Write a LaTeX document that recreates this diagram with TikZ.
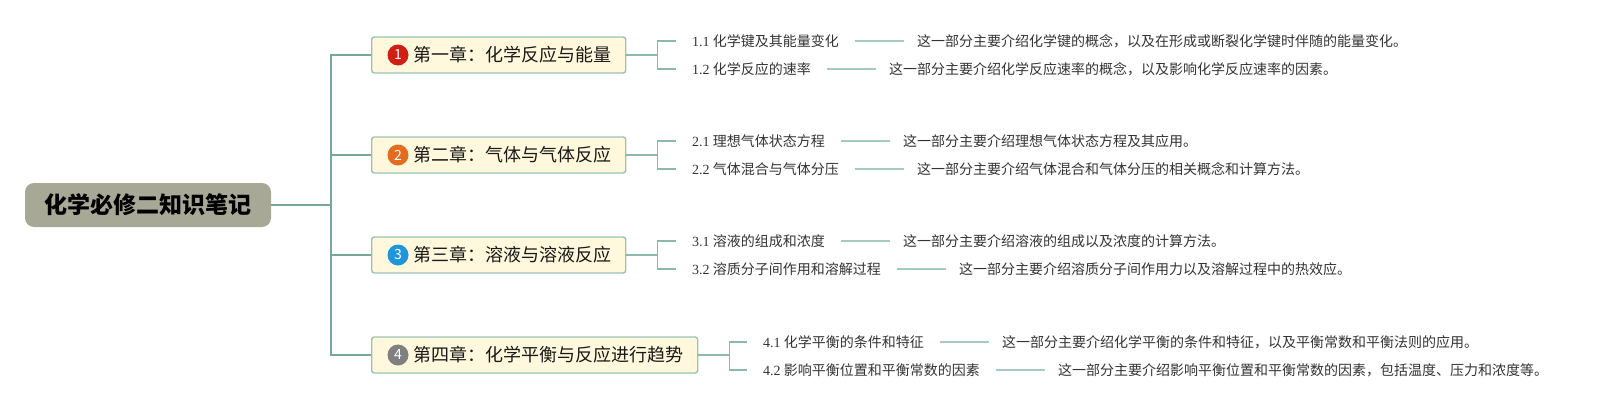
\documentclass[tikz,border=0pt]{standalone}
\usepackage{fontspec}
\setmainfont{Noto Sans CJK SC}
\newfontfamily\numfont{Liberation Serif}
\usetikzlibrary{positioning}
\definecolor{rootgray}{RGB}{168,168,150}
\definecolor{chapfill}{RGB}{255,248,220}
\definecolor{chapline}{RGB}{150,196,178}
\definecolor{branchgreen}{RGB}{118,168,152}
\definecolor{bracketgreen}{RGB}{140,186,170}
\definecolor{linkgreen}{RGB}{165,202,190}
\definecolor{dotred}{RGB}{208,32,20}
\definecolor{dotorange}{RGB}{228,108,30}
\definecolor{dotblue}{RGB}{32,150,218}
\definecolor{dotgray}{RGB}{128,128,128}
\begin{document}
\begin{tikzpicture}[x=1pt,y=-1pt,
    root/.style={fill=rootgray,rounded corners=9pt,minimum width=246pt,minimum height=44pt,
        font=\fontsize{23}{23}\selectfont\bfseries},
    chapter/.style={draw=chapline,fill=chapfill,line width=1.4pt,rounded corners=2.5pt,
        minimum height=36pt,inner xsep=14pt,anchor=west,text=black!90,
        font=\fontsize{18}{18}\selectfont},
    numdot/.style={circle,fill=#1,text=white,minimum size=21pt,inner sep=0pt,
        font=\fontsize{14}{14}\selectfont},
    topic/.style={anchor=west,inner xsep=16pt,inner ysep=2pt,text=black!80,
        font=\fontsize{14}{14}\selectfont},
    note/.style={inner xsep=13pt,inner ysep=2pt,text=black!80,
        font=\fontsize{14}{14}\selectfont},
    branch/.style={draw=branchgreen,line width=1.6pt},
    bracket/.style={draw=bracketgreen,line width=1.3pt},
    link/.style={draw=linkgreen,line width=1.5pt}]
        \useasboundingbox (0,0) rectangle (1610,410);
        %% Root
        \node[root] (root) at (148,205) {化学必修二知识笔记};
        %% Chapters
        \node[chapter] (c1) at (371,55)  {\hspace{28pt}第一章：化学反应与能量};
        \node[chapter] (c2) at (371,155) {\hspace{28pt}第二章：气体与气体反应};
        \node[chapter] (c3) at (371,255) {\hspace{28pt}第三章：溶液与溶液反应};
        \node[chapter] (c4) at (371,355) {\hspace{28pt}第四章：化学平衡与反应进行趋势};
        \node[numdot=dotred]    (n1) at ([xshift=27pt]c1.west) {1};
        \node[numdot=dotorange] (n2) at ([xshift=27pt]c2.west) {2};
        \node[numdot=dotblue]   (n3) at ([xshift=27pt]c3.west) {3};
        \node[numdot=dotgray]   (n4) at ([xshift=27pt]c4.west) {4};
        %% Topics
        \node[topic] (s11) at (676,41)  {{\numfont 1.1} 化学键及其能量变化};
        \node[topic] (s12) at (676,69)  {{\numfont 1.2} 化学反应的速率};
        \node[topic] (s21) at (676,141) {{\numfont 2.1} 理想气体状态方程};
        \node[topic] (s22) at (676,169) {{\numfont 2.2} 气体混合与气体分压};
        \node[topic] (s31) at (676,241) {{\numfont 3.1} 溶液的组成和浓度};
        \node[topic] (s32) at (676,269) {{\numfont 3.2} 溶质分子间作用和溶解过程};
        \node[topic] (s41) at (747,342) {{\numfont 4.1} 化学平衡的条件和特征};
        \node[topic] (s42) at (747,370) {{\numfont 4.2} 影响平衡位置和平衡常数的因素};
        %% Notes
        \node[note, right=49pt of s11] (d11) {这一部分主要介绍化学键的概念，以及在形成或断裂化学键时伴随的能量变化。};
        \node[note, right=49pt of s12] (d12) {这一部分主要介绍化学反应速率的概念，以及影响化学反应速率的因素。};
        \node[note, right=49pt of s21] (d21) {这一部分主要介绍理想气体状态方程及其应用。};
        \node[note, right=49pt of s22] (d22) {这一部分主要介绍气体混合和气体分压的相关概念和计算方法。};
        \node[note, right=49pt of s31] (d31) {这一部分主要介绍溶液的组成以及浓度的计算方法。};
        \node[note, right=49pt of s32] (d32) {这一部分主要介绍溶质分子间作用力以及溶解过程中的热效应。};
        \node[note, right=49pt of s41] (d41) {这一部分主要介绍化学平衡的条件和特征，以及平衡常数和平衡法则的应用。};
        \node[note, right=49pt of s42] (d42) {这一部分主要介绍影响平衡位置和平衡常数的因素，包括温度、压力和浓度等。};
        %% Branches
        \draw[branch] (root.east) -- ++(60,0) |- (c1.west);
        \draw[branch] (root.east) -- ++(60,0) |- (c2.west);
        \draw[branch] (root.east) -- ++(60,0) |- (c3.west);
        \draw[branch] (root.east) -- ++(60,0) |- (c4.west);
        %% Brackets
        \draw[bracket] (c1.east) -- ++(31,0) |- (s11.west);
        \draw[bracket] (c1.east) -- ++(31,0) |- (s12.west);
        \draw[bracket] (c2.east) -- ++(31,0) |- (s21.west);
        \draw[bracket] (c2.east) -- ++(31,0) |- (s22.west);
        \draw[bracket] (c3.east) -- ++(31,0) |- (s31.west);
        \draw[bracket] (c3.east) -- ++(31,0) |- (s32.west);
        \draw[bracket] (c4.east) -- ++(31,0) |- (s41.west);
        \draw[bracket] (c4.east) -- ++(31,0) |- (s42.west);
        %% Links
        \draw[link] (s11.east) -- (d11.west);
        \draw[link] (s12.east) -- (d12.west);
        \draw[link] (s21.east) -- (d21.west);
        \draw[link] (s22.east) -- (d22.west);
        \draw[link] (s31.east) -- (d31.west);
        \draw[link] (s32.east) -- (d32.west);
        \draw[link] (s41.east) -- (d41.west);
        \draw[link] (s42.east) -- (d42.west);
    \end{tikzpicture}
\end{document}
